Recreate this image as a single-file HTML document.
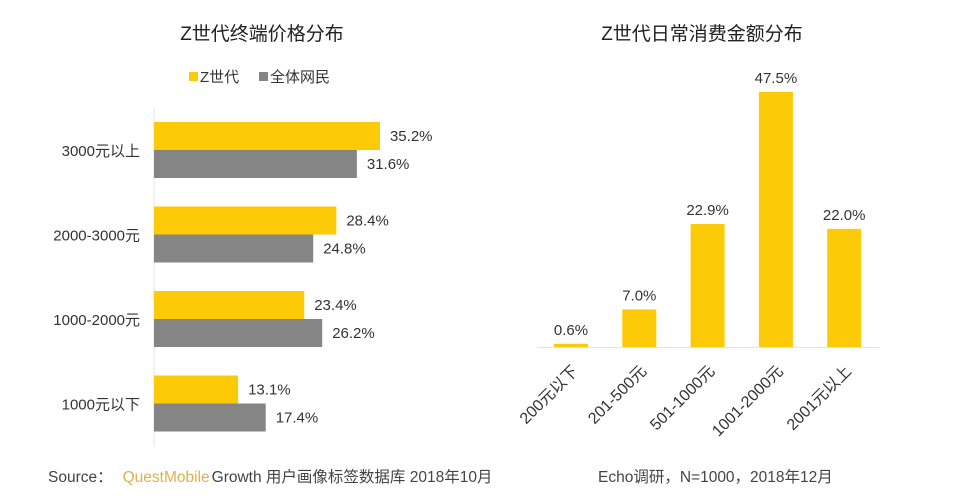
<!DOCTYPE html>
<html><head><meta charset="utf-8"><style>
body{margin:0;background:#fff}
svg{display:block;font-family:"Liberation Sans","Noto Sans CJK SC",sans-serif}
</style></head><body>
<svg width="960" height="496" viewBox="0 0 960 496" id="svg">
<text x="262" y="40" text-anchor="middle" font-size="19" fill="#222">Z世代终端价格分布</text>
<text x="702" y="40" text-anchor="middle" font-size="19" fill="#222">Z世代日常消费金额分布</text>
<g>
<rect x="189" y="72" width="9" height="9" fill="#fcca06"/>
<text x="200" y="82" font-size="15" fill="#333">Z世代</text>
<rect x="259" y="72" width="9" height="9" fill="#858585"/>
<text x="270" y="82" font-size="15" fill="#333">全体网民</text>
</g>
<line x1="154" y1="108" x2="154" y2="447" stroke="#e4e4e4"/>
<line x1="537" y1="347.5" x2="880" y2="347.5" stroke="#e4e4e4"/>
<g id="left"></g><g id="right"></g>
<text x="48" y="482" font-size="15.5" fill="#444">Source：<tspan fill="#e0b050" dx="10">QuestMobile</tspan><tspan dx="2">Growth 用户画像标签数据库 2018年10月</tspan></text>
<text x="598" y="482" font-size="15.5" fill="#444">Echo调研，N=1000，2018年12月</text>
</svg>
<script>
const leftCats=["3000元以上","2000-3000元","1000-2000元","1000元以下"];
const zValues=[35.2,28.4,23.4,13.1];
const allValues=[31.6,24.8,26.2,17.4];
const rightCats=["200元以下","201-500元","501-1000元","1001-2000元","2001元以上"];
const spendValues=[0.6,7.0,22.9,47.5,22.0];
const NS="http://www.w3.org/2000/svg";
function mk(t,a,p){const e=document.createElementNS(NS,t);for(const k in a)e.setAttribute(k,a[k]);p.appendChild(e);return e;}
const L=document.getElementById('left'),R=document.getElementById('right');
const xL=v=>154+v*6.42, gy=i=>122+i*84.5;
leftCats.forEach((c,i)=>{
 const y=gy(i);
 const b1=mk('rect',{x:154,y:y,width:xL(zValues[i])-154,height:28,fill:'#fcca06'},L);
 
 
 const b2=mk('rect',{x:154,y:y+28,width:xL(allValues[i])-154,height:28,fill:'#858585'},L);
 
 
 const t1=mk('text',{x:xL(zValues[i])+10,y:y+19,'font-size':15,fill:'#333'},L);t1.textContent=zValues[i].toFixed(1)+'%';
 
 
 const t2=mk('text',{x:xL(allValues[i])+10,y:y+47,'font-size':15,fill:'#333'},L);t2.textContent=allValues[i].toFixed(1)+'%';
 
 
 const c1=mk('text',{x:140,y:y+34,'font-size':15,fill:'#333','text-anchor':'end'},L);c1.textContent=c;
 
 
});
const base=347, yR=v=>base-v*5.37, xR=i=>554+i*68.3;
rightCats.forEach((c,i)=>{
 const v=spendValues[i],x=xR(i);
 const b=mk('rect',{x:x,y:yR(v),width:34,height:base-yR(v),fill:'#fcca06'},R);
 
 
 const t=mk('text',{x:x+17,y:yR(v)-9,'font-size':15,fill:'#333','text-anchor':'middle'},R);t.textContent=v.toFixed(1)+'%';
 
 
 const cx=x+25,cy=372;
 const l=mk('text',{x:cx,y:cy,'font-size':16,fill:'#333','text-anchor':'end',transform:`rotate(-45 ${cx} ${cy})`},R);l.textContent=c;
 
 
});
</script>
</body></html>
